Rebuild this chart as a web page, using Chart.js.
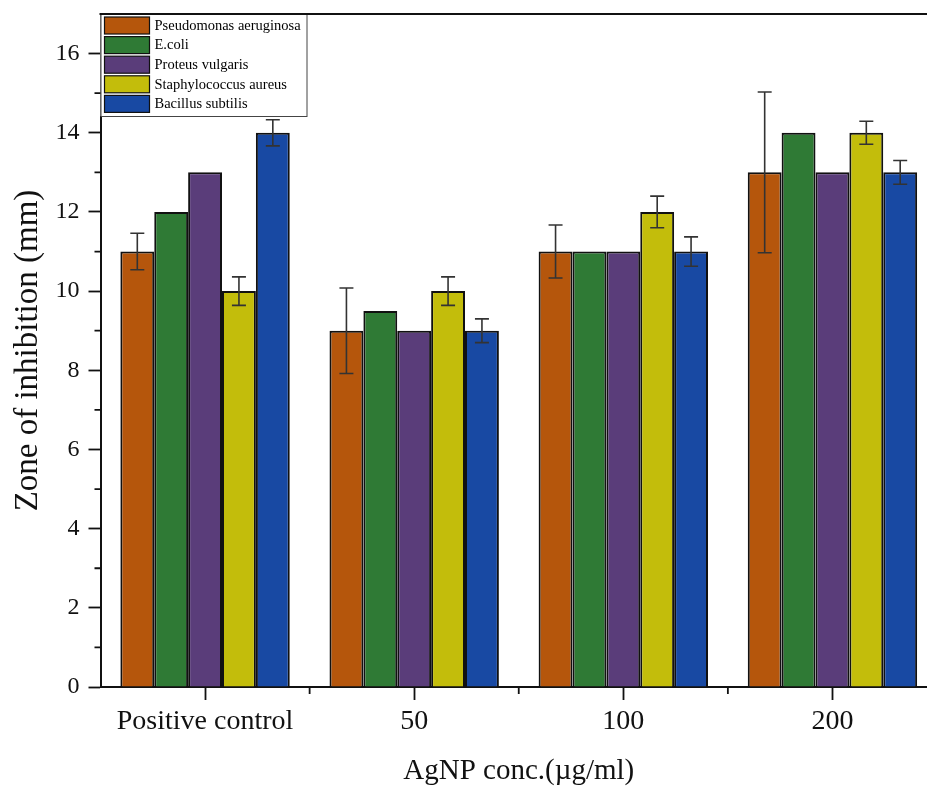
<!DOCTYPE html>
<html>
<head>
<meta charset="utf-8">
<script src="https://cdn.jsdelivr.net/npm/chart.js@4.4.1/dist/chart.umd.min.js"></script>
<style>
  html, body { margin: 0; padding: 0; background: #fff; overflow: hidden; }
  #wrap { width: 927px; height: 789px; overflow: hidden; position: relative; }
  canvas { display: block; }
</style>
</head>
<body>
<div id="wrap"><canvas id="c" width="945" height="789"></canvas></div>
<script>
const categories = ['Positive control', '50', '100', '200'];
const seriesNames = ['Pseudomonas aeruginosa', 'E.coli', 'Proteus vulgaris', 'Staphylococcus aureus', 'Bacillus subtilis'];
const pseudomonas = [11, 9, 11, 13];
const ecoli = [12, 9.5, 11, 14];
const proteus = [13, 9, 11, 13];
const staphylococcus = [10, 10, 12, 14];
const bacillus = [14, 9, 11, 13];
const errPseudomonas = [0.46, 1.08, 0.67, 2.03];
const errEcoli = [0, 0, 0, 0];
const errProteus = [0, 0, 0, 0];
const errStaphylococcus = [0.36, 0.36, 0.4, 0.29];
const errBacillus = [0.33, 0.3, 0.37, 0.3];
const yTickValues = [0, 2, 4, 6, 8, 10, 12, 14, 16];
const yMinorValues = [1, 3, 5, 7, 9, 11, 13, 15];

const colors = ['#B5560C', '#2F7A35', '#5A3D7A', '#C3BD0B', '#1849A3'];
const values = [pseudomonas, ecoli, proteus, staphylococcus, bacillus];
const errors = [errPseudomonas, errEcoli, errProteus, errStaphylococcus, errBacillus];
const FONT = '"Liberation Serif", "Times New Roman", serif';

const datasets = seriesNames.map((name, i) => ({
  label: name,
  data: values[i],
  errors: errors[i],
  backgroundColor: colors[i],
  borderColor: '#111',
  borderWidth: 2,
  barPercentage: 1.0,
  categoryPercentage: 0.81
}));

const errorBarPlugin = {
  id: 'errorBars',
  afterDatasetsDraw(chart) {
    const ctx = chart.ctx;
    const y = chart.scales.y;
    ctx.save();
    ctx.strokeStyle = '#333';
    ctx.lineWidth = 1.6;
    chart.data.datasets.forEach((ds, di) => {
      const meta = chart.getDatasetMeta(di);
      meta.data.forEach((bar, i) => {
        const e = ds.errors[i];
        if (!e) return;
        const v = ds.data[i];
        const yt = y.getPixelForValue(v + e);
        const yb = y.getPixelForValue(v - e);
        const x = bar.x;
        const cw = 7;
        ctx.beginPath();
        ctx.moveTo(x, yt); ctx.lineTo(x, yb);
        ctx.moveTo(x - cw, yt); ctx.lineTo(x + cw, yt);
        ctx.moveTo(x - cw, yb); ctx.lineTo(x + cw, yb);
        ctx.stroke();
      });
    });
    ctx.restore();
  }
};

const framePlugin = {
  id: 'frame',
  afterDraw(chart) {
    const ctx = chart.ctx;
    const a = chart.chartArea;
    const y = chart.scales.y;
    const x = chart.scales.x;
    ctx.save();
    ctx.strokeStyle = '#111';
    ctx.lineWidth = 2;
    ctx.beginPath();
    ctx.moveTo(a.left - 1, a.top);
    ctx.lineTo(a.right, a.top);
    ctx.stroke();
    ctx.lineWidth = 1.8;
    ctx.beginPath();
    yMinorValues.forEach(v => {
      const py = y.getPixelForValue(v);
      ctx.moveTo(a.left - 6, py); ctx.lineTo(a.left, py);
    });
    for (let i = 0; i < categories.length - 1; i++) {
      const px = (x.getPixelForValue(i) + x.getPixelForValue(i + 1)) / 2;
      ctx.moveTo(px, a.bottom); ctx.lineTo(px, a.bottom + 7);
    }
    ctx.stroke();
    ctx.restore();
  }
};

const legendPlugin = {
  id: 'boxLegend',
  afterDatasetsDraw(chart) {
    const ctx = chart.ctx;
    const a = chart.chartArea;
    const left = a.left, top = a.top;
    const w = 206, h = 102;
    ctx.save();
    ctx.fillStyle = '#fff';
    ctx.fillRect(left, top, w, h);
    ctx.strokeStyle = '#444';
    ctx.lineWidth = 1;
    ctx.strokeRect(left + 0.5, top + 0.5, w, h);
    ctx.font = '14.5px ' + FONT;
    ctx.textBaseline = 'middle';
    chart.data.datasets.forEach((ds, i) => {
      const rowTop = top + 3 + i * 19.6;
      ctx.fillStyle = ds.backgroundColor;
      ctx.fillRect(left + 4, rowTop, 45, 17);
      ctx.strokeStyle = '#111';
      ctx.lineWidth = 1.2;
      ctx.strokeRect(left + 4, rowTop, 45, 17);
      ctx.fillStyle = '#000';
      ctx.fillText(ds.label, left + 54, rowTop + 9);
    });
    ctx.restore();
  }
};

new Chart(document.getElementById('c'), {
  type: 'bar',
  data: { labels: categories, datasets },
  options: {
    responsive: false,
    animation: false,
    devicePixelRatio: 1,
    layout: { padding: { top: 14, right: 8, left: 0, bottom: 0 } },
    plugins: { legend: { display: false }, tooltip: { enabled: false } },
    scales: {
      x: {
        offset: true,
        grid: { display: true, drawOnChartArea: false, offset: false, tickLength: 13, tickWidth: 1.8, tickColor: '#111' },
        border: { display: true, color: '#111', width: 2 },
        ticks: { color: '#111', font: { family: FONT, size: 28 }, padding: 5, maxRotation: 0 },
        title: { display: true, text: 'AgNP conc.(µg/ml)', color: '#111', font: { family: FONT, size: 29 }, padding: { top: 10, bottom: 0 } },
        afterFit(s) { s.height = 102; s.paddingLeft = 0; s.paddingRight = 0; }
      },
      y: {
        min: 0, max: 17,
        afterBuildTicks(s) { s.ticks = yTickValues.map(v => ({ value: v })); },
        grid: { display: true, drawOnChartArea: false, tickLength: 12, tickWidth: 1.8, tickColor: '#111' },
        border: { display: true, color: '#111', width: 2 },
        ticks: { color: '#111', font: { family: FONT, size: 24 }, padding: 9 },
        title: { display: true, text: 'Zone of inhibition (mm)', color: '#111', font: { family: FONT, size: 33 }, padding: { top: 9, bottom: 4 } },
        afterFit(s) { s.width = 100.5; s.paddingTop = 0; s.paddingBottom = 0; }
      }
    }
  },
  plugins: [errorBarPlugin, legendPlugin, framePlugin]
});
</script>
</body>
</html>
